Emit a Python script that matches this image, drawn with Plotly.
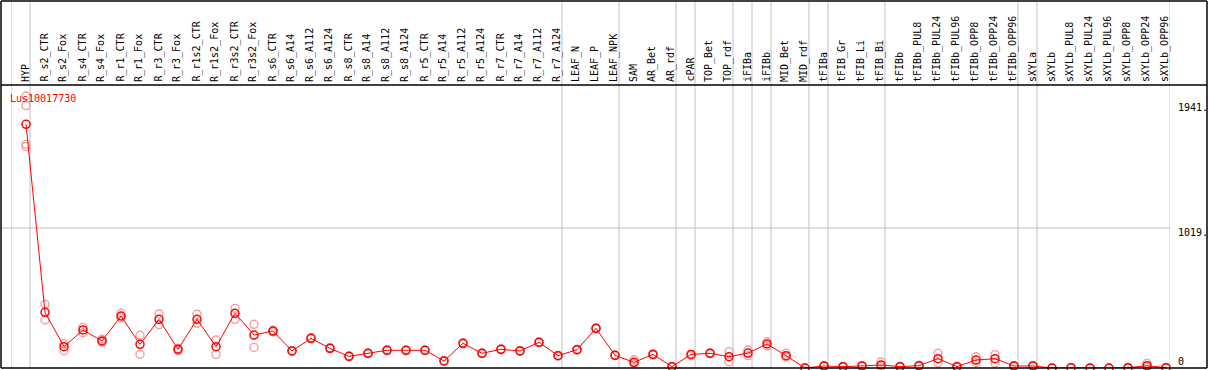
import plotly.graph_objects as go

categories = ["HYP", "R_s2_CTR", "R_s2_Fox", "R_s4_CTR", "R_s4_Fox", "R_r1_CTR", "R_r1_Fox",
              "R_r3_CTR", "R_r3_Fox", "R_r1s2_CTR", "R_r1s2_Fox", "R_r3s2_CTR", "R_r3s2_Fox",
              "R_s6_CTR", "R_s6_A14", "R_s6_A112", "R_s6_A124", "R_s8_CTR", "R_s8_A14",
              "R_s8_A112", "R_s8_A124", "R_r5_CTR", "R_r5_A14", "R_r5_A112", "R_r5_A124",
              "R_r7_CTR", "R_r7_A14", "R_r7_A112", "R_r7_A124", "LEAF_N", "LEAF_P", "LEAF_NPK",
              "SAM", "AR_Bet", "AR_rdf", "cPAR", "TOP_Bet", "TOP_rdf", "iFIBa", "iFIBb",
              "MID_Bet", "MID_rdf", "tFIBa", "tFIB_Gr", "tFIB_Li", "tFIB_Bi", "tFIBb",
              "tFIBb_PUL8", "tFIBb_PUL24", "tFIBb_PUL96", "tFIBb_OPP8", "tFIBb_OPP24",
              "tFIBb_OPP96", "sXYLa", "sXYLb", "sXYLb_PUL8", "sXYLb_PUL24", "sXYLb_PUL96",
              "sXYLb_OPP8", "sXYLb_OPP24", "sXYLb_OPP96"]

mean_values = [1774, 405, 155, 277, 197, 378, 172, 354, 136, 354, 155, 398, 240, 269, 124,
               216, 143, 85, 107, 129, 129, 129, 51, 180, 107, 136, 124, 187, 90, 133, 289,
               92, 41, 99, 10, 99, 107, 82, 109, 175, 90, 0, 15, 10, 15, 22, 10,
               17, 68, 10, 58, 68, 15, 15, 0, 2, 0, 0, 2, 17, 2]

replicate_values = [
    [1980, 1910, 1628, 1611], [464, 349], [175, 126], [296, 257], [209, 187],
    [398, 364], [238, 99], [393, 315], [143, 126], [391, 325], [204, 99],
    [434, 354], [318, 150], [275, 262], [128, 120], [220, 212], [148, 139],
    [88, 82], [110, 104], [133, 126], [132, 126], [131, 127], [55, 48],
    [184, 176], [110, 104], [139, 133], [127, 121], [190, 184], [93, 87],
    [136, 130], [292, 286], [95, 89], [60, 30], [104, 94], [13, 7],
    [99, 88], [110, 104], [119, 46], [131, 90], [191, 160], [107, 80],
    [2, 0], [18, 12], [13, 7], [18, 12], [44, 10], [13, 7], [20, 14],
    [107, 39], [13, 7], [82, 39], [97, 36], [18, 12], [18, 12], [2, 0],
    [4, 0], [2, 0], [2, 0], [4, 0], [34, 5], [4, 0]]

# column indices before which a grey separator is drawn
group_breaks = [0, 1, 29, 32, 35, 36, 38, 39, 40, 42, 43, 46, 53, 54, 61]

tick_values = [1941, 1019, 0]
tick_labels = ["1941.", "1019.", "0"]
gene_name = "Lus10017730"

W, H = 1209, 370
L, R, T, B = 11, 39, 85, 2
PW, PH = W - L - R, H - T - B
OFF = 15.0 / 19.0          # point offset within a column
YMAX = PH * 1019.0 / 140.0  # 1019 sits 140 px above the baseline
FONT = "DejaVu Sans Mono"

x_idx = list(range(len(categories)))
rep_x, rep_y = [], []
for i, reps in enumerate(replicate_values):
    for v in reps:
        rep_x.append(i)
        rep_y.append(v)

fig = go.Figure()
fig.add_trace(go.Scatter(
    x=rep_x, y=rep_y, mode="markers",
    marker=dict(symbol="circle-open", size=8, color="#f0a0a0", line=dict(width=1.4, color="#f0a0a0")),
    hoverinfo="skip", showlegend=False, cliponaxis=False))
fig.add_trace(go.Scatter(
    x=x_idx, y=mean_values, mode="lines+markers",
    line=dict(color="#ff0000", width=1),
    marker=dict(symbol="circle-open", size=8, color="#ff0000", line=dict(width=1.5, color="#ff0000")),
    showlegend=False, cliponaxis=False, text=categories))

shapes = []
top_paper = (PH + T - 1) / PH
for k in group_breaks:
    shapes.append(dict(type="line", xref="x", yref="paper", x0=k - OFF, x1=k - OFF,
                       y0=0, y1=top_paper, line=dict(color="#c0c0c0", width=1), layer="below"))
# mid grid line
shapes.append(dict(type="line", xref="paper", yref="y", x0=-10 / PW, x1=1, y0=1019, y1=1019,
                   line=dict(color="#c0c0c0", width=1), layer="below"))
# black frame
xl, xr = -10 / PW, (1207 - L) / PW
for y in [0, 1, top_paper]:
    shapes.append(dict(type="line", xref="paper", yref="paper", x0=xl, x1=xr, y0=y, y1=y,
                       line=dict(color="black", width=1.5)))
for x in [xl, xr]:
    shapes.append(dict(type="line", xref="paper", yref="paper", x0=x, x1=x, y0=0, y1=top_paper,
                       line=dict(color="black", width=1.5)))

annotations = []
for i, name in enumerate(categories):
    annotations.append(dict(x=i, y=1, xref="x", yref="paper", text=name, textangle=-90,
                            showarrow=False, xanchor="center", yanchor="bottom", yshift=1, xshift=-1,
                            font=dict(family=FONT, size=10, color="black")))
shifts = {1941: -6, 1019: -4, 0: 7}
for v, lab in zip(tick_values, tick_labels):
    annotations.append(dict(x=(1176 - L) / PW, y=v, xref="paper", yref="y", text=lab,
                            showarrow=False, xanchor="left", yanchor="middle", yshift=shifts[v],
                            font=dict(family=FONT, size=10, color="black")))
annotations.append(dict(x=(8 - L) / PW, y=(T + PH - 98) / PH, xref="paper", yref="paper",
                        text=gene_name, showarrow=False, xanchor="left", yanchor="middle",
                        font=dict(family=FONT, size=10, color="#ff0000")))

fig.update_layout(
    width=W, height=H, autosize=False,
    margin=dict(l=L, r=R, t=T, b=B, pad=0),
    paper_bgcolor="white", plot_bgcolor="white",
    xaxis=dict(range=[-OFF, len(categories) - OFF], showgrid=False, zeroline=False,
               showticklabels=False, ticks="", showline=False),
    yaxis=dict(range=[0, YMAX], showgrid=False, zeroline=False, showticklabels=False,
               ticks="", showline=False),
    shapes=shapes, annotations=annotations, showlegend=False,
)

fig.write_html("out.html", config={"displayModeBar": False},
               post_script="document.body.style.margin='0px';")
